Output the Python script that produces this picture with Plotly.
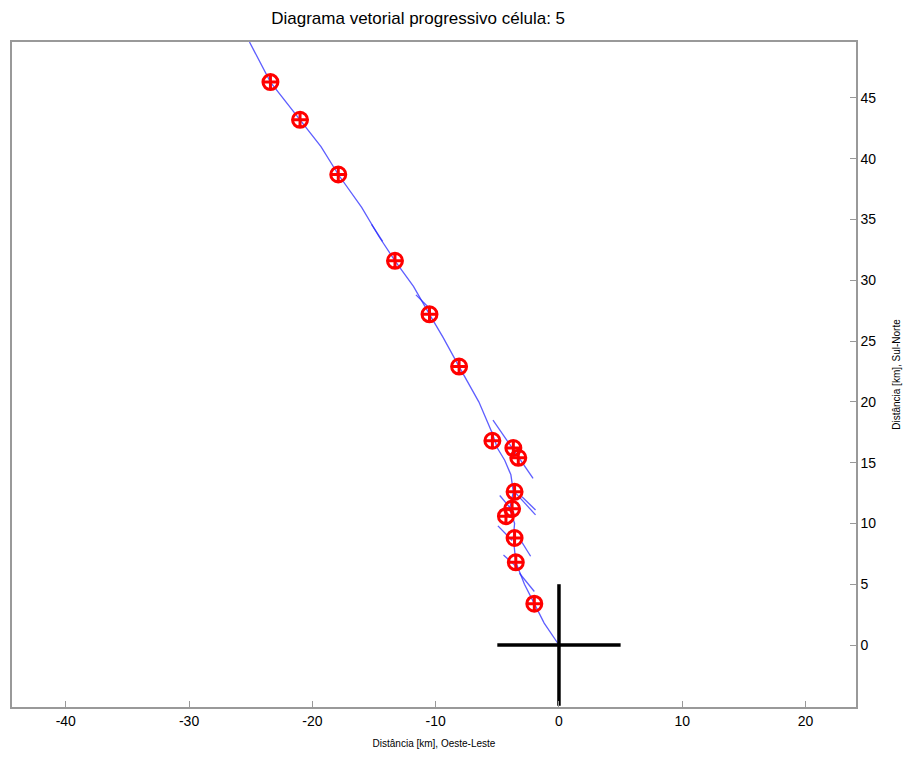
import plotly.graph_objects as go

# Cell centroid positions (km)
marker_x = [-23.4, -21.0, -17.9, -13.3, -10.5, -8.1, -5.4, -3.7, -3.3, -3.6, -3.8, -4.3, -3.6, -3.5, -2.0]
marker_y = [46.3, 43.2, 38.7, 31.6, 27.2, 22.9, 16.8, 16.2, 15.4, 12.6, 11.2, 10.6, 8.8, 6.8, 3.4]

# Progressive vector path (km)
path_x = [0.0, -1.2, -2.0, -2.8, -3.5, -3.7, -3.6, -4.0, -3.7, -3.9, -4.4, -5.0, -5.4, -6.5, -8.1, -9.4, -10.5,
          -11.8, -13.3, -14.6, -16.0, -17.9, -19.3, -21.0, -22.2, -23.4, -25.1]
path_y = [0.0, 1.8, 3.4, 5.0, 6.8, 8.8, 10.0, 11.2, 12.6, 14.0, 15.2, 16.2, 17.4, 20.0, 22.9, 25.3, 27.2,
          29.5, 31.6, 33.6, 36.0, 38.7, 41.0, 43.2, 44.8, 46.3, 49.6]

# Short individual vector segments (start/end pairs, km)
seg_x0 = [-5.35, -4.8, -3.6, -3.0, -4.95, -4.5, -3.2, -3.1, -15.2, -11.6]
seg_y0 = [18.5, 12.3, 12.6, 12.2, 9.8, 7.4, 5.9, 8.6, 34.6, 28.8]
seg_x1 = [-2.1, -3.65, -1.9, -1.9, -3.8, -3.2, -2.0, -2.3, -14.3, -10.4]
seg_y1 = [13.7, 10.9, 10.7, 11.1, 8.6, 6.2, 4.4, 7.3, 33.2, 27.6]

# Reference cross at origin
cross_half = 5

x_ticks = [-40, -30, -20, -10, 0, 10, 20]
y_ticks = [0, 5, 10, 15, 20, 25, 30, 35, 40, 45]

sx, sy = [], []
for a, b, c, d in zip(seg_x0, seg_y0, seg_x1, seg_y1):
    sx += [a, c, None]
    sy += [b, d, None]

fig = go.Figure()
blue = "rgba(40,40,255,0.75)"
fig.add_trace(go.Scatter(x=path_x, y=path_y, mode="lines",
                         line=dict(color=blue, width=1.3), hoverinfo="skip"))
fig.add_trace(go.Scatter(x=sx, y=sy, mode="lines",
                         line=dict(color=blue, width=1.3), hoverinfo="skip"))
fig.add_trace(go.Scatter(x=[-cross_half, cross_half, None, 0, 0],
                         y=[0, 0, None, -cross_half, cross_half], mode="lines",
                         line=dict(color="black", width=3.5), hoverinfo="skip"))
fig.add_trace(go.Scatter(x=marker_x, y=marker_y, mode="markers",
                         marker=dict(symbol="circle-cross-open", size=15, color="red",
                                     line=dict(color="red", width=3))))

font = "Liberation Sans, Arial, sans-serif"
fig.update_layout(
    width=911, height=758,
    margin=dict(l=12, r=55, t=42, b=51),
    paper_bgcolor="white", plot_bgcolor="white",
    showlegend=False,
    font=dict(family=font, color="black"),
    title=dict(text="Diagrama vetorial progressivo célula: 5", x=0.459, xanchor="center",
               y=0.976, yanchor="middle", font=dict(size=17, family=font)),
    xaxis=dict(range=[-44.36, 24.09], tickvals=x_ticks, ticktext=[str(v) for v in x_ticks],
               ticks="inside", ticklen=6, automargin=False,
               tickcolor="#999", showline=True, linecolor="#999", linewidth=1.5, mirror=True,
               showgrid=False, zeroline=False, tickfont=dict(size=14),
               title=dict(text="Distância [km], Oeste-Leste", font=dict(size=10), standoff=12)),
    yaxis=dict(range=[-5.1, 49.6], tickvals=y_ticks, ticktext=[str(v) for v in y_ticks],
               side="right", ticks="inside", ticklen=6, automargin=False,
               tickcolor="#999", showline=True, linecolor="#999", linewidth=1.5, mirror=True,
               showgrid=False, zeroline=False, tickfont=dict(size=14),
               title=dict(text="Distância [km], Sul-Norte", font=dict(size=10), standoff=18)),
)

fig.write_html("out.html")
